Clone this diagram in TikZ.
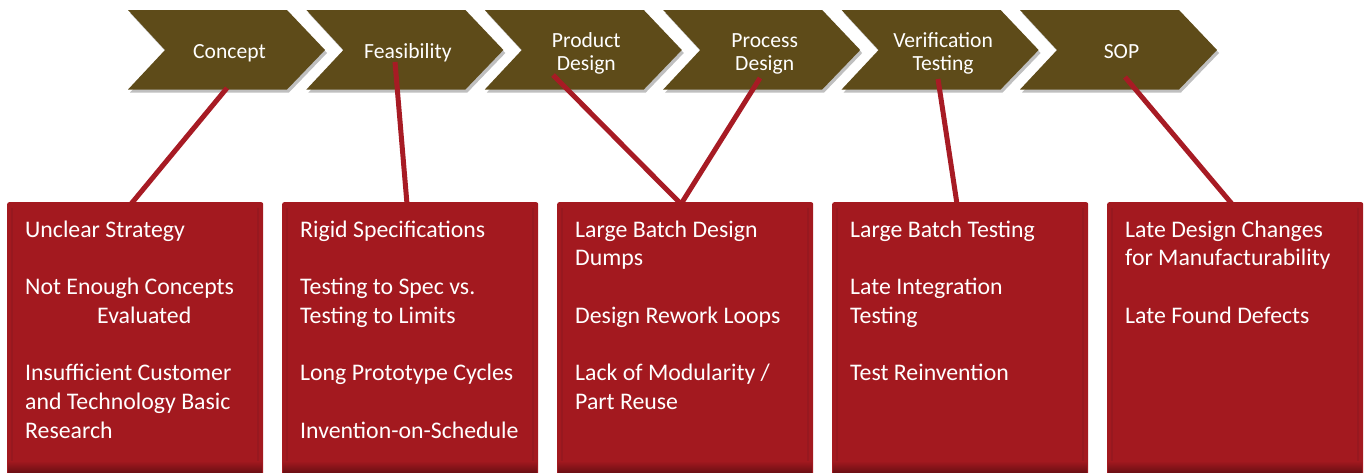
\documentclass[tikz,border=0pt]{standalone}
\usepackage{fontspec}
\setmainfont{Carlito}
\usetikzlibrary{shadows}
\definecolor{chevbrown}{HTML}{5E4B19}
\definecolor{boxred}{HTML}{A3191F}
\definecolor{boxdark}{HTML}{6E0F14}
\definecolor{boxedge}{HTML}{921820}
\definecolor{linkred}{HTML}{A71B24}
\begin{document}
\begin{tikzpicture}[x=1pt,y=-1pt,
  chev/.style={fill=chevbrown, drop shadow={shadow xshift=2pt, shadow yshift=-3pt, opacity=0.25, fill=black}},
  chevtext/.style={text=white, inner sep=0pt, anchor=base, font=\fontsize{21.6}{23.8}\selectfont},
  probbox/.style={fill=boxred, rounded corners=2pt, inner sep=0pt, anchor=north west, minimum width=256pt, minimum height=280pt},
  probtext/.style={text=white, inner sep=0pt, anchor=base west, font=\fontsize{23.8}{28.7}\selectfont},
  link/.style={draw=linkred, line width=5pt}
]
\useasboundingbox (0,0) rectangle (1364,472);
% chevrons
\foreach \i in {0,...,5}{
  \pgfmathsetmacro\xo{128+178.4*\i}
  \fill[chev] (\xo,10) -- ++(159,0) -- ++(38,40) -- ++(-38,39.5) -- ++(-159,0) -- ++(37,-39.5) -- cycle;
}
\node[chevtext] (c1) at (229.5,58.5) {Concept};
\node[chevtext] (c2) at (407.9,58.5) {Feasibility};
\node[chevtext] (c3) at (586.3,47) {\parbox[t]{150pt}{\centering Product\\Design}};
\node[chevtext] (c4) at (764.7,47) {\parbox[t]{150pt}{\centering Process\\Design}};
\node[chevtext] (c5) at (943.1,47) {\parbox[t]{150pt}{\centering Verification\\Testing}};
\node[chevtext] (c6) at (1121.5,58.5) {SOP};
% connector end points
\coordinate (l1a) at (227,88);   \coordinate (l1b) at (131,204);
\coordinate (l2a) at (395,62);   \coordinate (l2b) at (407,204);
\coordinate (l3a) at (553,75);   \coordinate (l3b) at (681,204);
\coordinate (l4a) at (760,78);
\coordinate (l5a) at (938,79);   \coordinate (l5b) at (957,204);
\coordinate (l6a) at (1125,77);  \coordinate (l6b) at (1232,204);
\draw[link] (l1a) -- (l1b);
\draw[link] (l2a) -- (l2b);
\draw[link] (l3a) -- (l3b);
\draw[link] (l4a) -- (l3b);
\draw[link] (l5a) -- (l5b);
\draw[link] (l6a) -- (l6b);
% boxes
\foreach \i/\xl in {1/7,2/282,3/557,4/832,5/1107}{
  \node[probbox] (b\i) at (\xl,202) {};
  \draw[boxedge, line width=1.5pt, opacity=0.7] (\xl+5,208) -- (\xl+5,466) (\xl+251,208) -- (\xl+251,466);
  \shade[top color=boxred, bottom color=boxdark] (\xl+1,461) rectangle (\xl+255,472);
}
\node[probtext] (t1) at (25,237.2) {\parbox[t]{250pt}{\raggedright Unclear Strategy\\[28.7pt]
 Not Enough Concepts\\
 \hspace*{72pt}Evaluated\\[28.7pt]
 Insufficient Customer\\
 and Technology Basic\\
 Research}};
\node[probtext] (t2) at (300,237.2) {\parbox[t]{250pt}{\raggedright Rigid Specifications\\[28.7pt]
 Testing to Spec vs.\\
 Testing to Limits\\[28.7pt]
 Long Prototype Cycles\\[28.7pt]
 Invention-on-Schedule}};
\node[probtext] (t3) at (575,237.2) {\parbox[t]{250pt}{\raggedright Large Batch Design\\
 Dumps\\[28.7pt]
 Design Rework Loops\\[28.7pt]
 Lack of Modularity /\\
 Part Reuse}};
\node[probtext] (t4) at (850,237.2) {\parbox[t]{250pt}{\raggedright Large Batch Testing\\[28.7pt]
 Late Integration\\
 Testing\\[28.7pt]
 Test Reinvention}};
\node[probtext] (t5) at (1125,237.2) {\parbox[t]{250pt}{\raggedright Late Design Changes\\
 for Manufacturability\\[28.7pt]
 Late Found Defects}};
\end{tikzpicture}
\end{document}
